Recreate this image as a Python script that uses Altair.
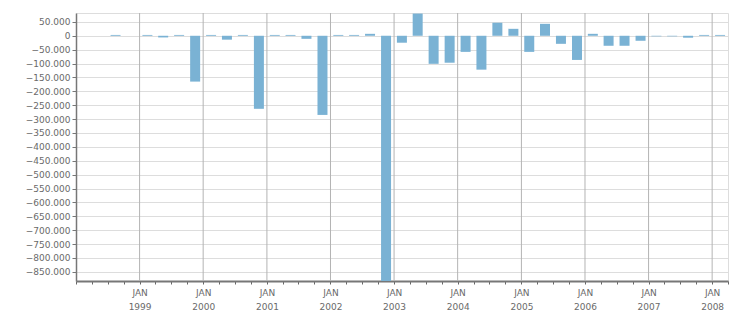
import altair as alt
import pandas as pd

# Quarter start dates and values
quarters = [
    "1998-07-01", "1999-01-01", "1999-04-01", "1999-07-01", "1999-10-01",
    "2000-01-01", "2000-04-01", "2000-07-01", "2000-10-01",
    "2001-01-01", "2001-04-01", "2001-07-01", "2001-10-01",
    "2002-01-01", "2002-04-01", "2002-07-01", "2002-10-01",
    "2003-01-01", "2003-04-01", "2003-07-01", "2003-10-01",
    "2004-01-01", "2004-04-01", "2004-07-01", "2004-10-01",
    "2005-01-01", "2005-04-01", "2005-07-01", "2005-10-01",
    "2006-01-01", "2006-04-01", "2006-07-01", "2006-10-01",
    "2007-01-01", "2007-04-01", "2007-07-01", "2007-10-01",
    "2008-01-01",
]
values = [
    3000, 3000, -6000, 3000, -165000,
    3000, -14000, 3000, -263000,
    3000, 3000, -11000, -285000,
    3000, 3000, 7000, -950000,
    -25000, 80000, -101000, -97000,
    -58000, -122000, 47000, 25000,
    -58000, 43000, -29000, -87000,
    7000, -36000, -36000, -18000,
    -2000, -2000, -7000, 3000,
    3000,
]
year_lines = [f"{y}-01-01T00:00:00" for y in range(1999, 2009)]
y_ticks = list(range(-850000, 50001, 50000))

df = pd.DataFrame({"start": pd.to_datetime(quarters), "value": values})
df["mid"] = df["start"] + (df["start"] + pd.DateOffset(months=3) - df["start"]) / 2
df["mid"] = df["mid"].dt.strftime("%Y-%m-%dT%H:%M:%S")

years_df = pd.DataFrame({"d": year_lines})

x_scale = alt.Scale(
    domain=[alt.DateTime(year=1998, month=1, date=1), alt.DateTime(year=2008, month=4, date=1)],
    padding=0,
)
y_scale = alt.Scale(domain=[-883000, 82000], nice=False, zero=False)

label_color = "#6a6a6a"
font = "DejaVu Sans"

x_axis = alt.Axis(
    title=None,
    grid=False,
    tickCount={"interval": "month", "step": 3},
    labelExpr="month(datum.value) == 0 && year(datum.value) > 1998 ? ['JAN', timeFormat(datum.value, '%Y')] : ''",
    labelOverlap=False,
    labelFlush=False,
    labelFont=font,
    labelFontSize=9,
    labelColor=label_color,
    labelLineHeight=14,
    labelPadding=4,
    labelBaseline="top",
    domainColor="#777777",
    domainWidth=2,
    tickColor="#666666",
    tickSize=3,
)

grid_rules = alt.Chart(years_df).mark_rule(color="#b4b4b4", strokeWidth=1).encode(
    x=alt.X("d:T", scale=x_scale, axis=x_axis)
)

bars = alt.Chart(df).mark_bar(width=10, color="#7ab2d4", clip=True).encode(
    x=alt.X("mid:T", scale=x_scale, axis=x_axis),
    y=alt.Y(
        "value:Q",
        scale=y_scale,
        axis=alt.Axis(
            title=None,
            values=y_ticks,
            labelExpr="replace(format(datum.value, ','), /,/g, '.')",
            labelFont=font,
            labelFontSize=9,
            labelColor=label_color,
            labelPadding=2,
            labelOverlap=False,
            gridColor="#dddddd",
            gridWidth=1,
            domainColor="#777777",
            domainWidth=1.5,
            tickColor="#777777",
            tickSize=4,
        ),
    ),
    y2=alt.datum(0),
)

chart = alt.layer(grid_rules, bars).properties(
    width=652,
    height=268,
    autosize=alt.AutoSizeParams(type="none"),
    padding={"left": 76, "top": 13, "right": 23, "bottom": 32},
    background="white",
).configure_view(stroke="#dddddd", strokeWidth=1)

chart.save("out.html", embed_options={"renderer": "svg", "actions": False})
